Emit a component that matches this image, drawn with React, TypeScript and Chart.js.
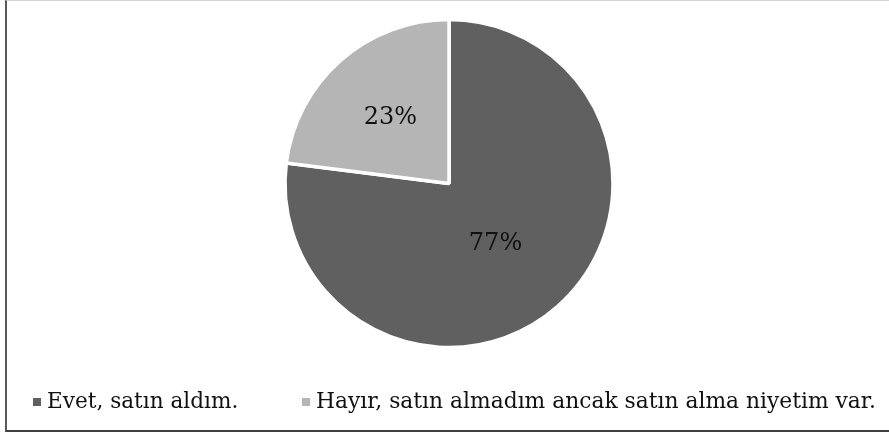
import React, { useEffect, useRef } from "react";
import { Chart, registerables } from "chart.js";

Chart.register(...registerables);

const categories = ["Evet, satın aldım.", "Hayır, satın almadım ancak satın alma niyetim var."];
const values = [77, 23];
const valueLabels = ["77%", "23%"];
const colors = ["#606060", "#b5b5b5"];

const FONT = "'DejaVu Serif', 'Liberation Serif', serif";
const legendX = [33, 302];

const labelPlugin = {
  id: "sliceLabels",
  afterDatasetsDraw(chart: any) {
    const meta = chart.getDatasetMeta(0);
    const ctx = chart.ctx;
    const factors = [0.46, 0.54];
    const angleShift = [0.058, 0];
    ctx.save();
    ctx.font = `24px ${FONT}`;
    ctx.fillStyle = "#111";
    ctx.textAlign = "center";
    ctx.textBaseline = "middle";
    meta.data.forEach((arc: any, i: number) => {
      const { x, y, startAngle, endAngle, outerRadius } = arc.getProps(
        ["x", "y", "startAngle", "endAngle", "outerRadius"],
        true
      );
      const mid = (startAngle + endAngle) / 2 + angleShift[i];
      const r = outerRadius * factors[i];
      ctx.fillText(valueLabels[i], x + Math.cos(mid) * r, y + Math.sin(mid) * r + 1);
    });
    ctx.restore();
  },
};

export default function App() {
  const ref = useRef<HTMLCanvasElement | null>(null);
  useEffect(() => {
    document.body.style.margin = "0";
    if (!ref.current) return;
    const chart = new Chart(ref.current, {
      type: "pie",
      data: {
        labels: categories,
        datasets: [
          {
            data: values,
            backgroundColor: colors,
            borderColor: "#ffffff",
            borderWidth: 3.5,
            radius: 164,
          } as any,
        ],
      },
      options: {
        animation: false,
        responsive: false,
        maintainAspectRatio: false,
        layout: { padding: { top: 0, bottom: 65, left: 9, right: 0 } },
        plugins: {
          tooltip: { enabled: false },
          legend: { display: false },
        },
      },
      plugins: [labelPlugin],
    });
    return () => chart.destroy();
  }, []);
  return (
    <div style={{ position: "relative", width: 889, height: 432, background: "#fff", overflow: "hidden" }}>
      <div
        style={{
          position: "absolute",
          left: 5,
          top: 0,
          width: 884,
          height: 432,
          borderLeft: "2px solid #595959",
          borderTop: "1px solid #d4d4d4",
          borderBottom: "2px solid #404040",
          boxSizing: "border-box",
        }}
      />
      <canvas
        ref={ref}
        width={889}
        height={432}
        style={{ position: "absolute", left: 0, top: 0, width: 889, height: 432 }}
      />
      {categories.map((c, i) => (
        <React.Fragment key={c}>
          <div
            style={{
              position: "absolute",
              left: legendX[i],
              top: 398,
              width: 8,
              height: 8,
              background: colors[i],
            }}
          />
          <div
            style={{
              position: "absolute",
              left: legendX[i] + 14,
              top: 388,
              fontFamily: FONT,
              fontSize: i === 0 ? 21.6 : 21.8,
              lineHeight: "normal",
              color: "#111",
              whiteSpace: "nowrap",
            }}
          >
            {c}
          </div>
        </React.Fragment>
      ))}
    </div>
  );
}
